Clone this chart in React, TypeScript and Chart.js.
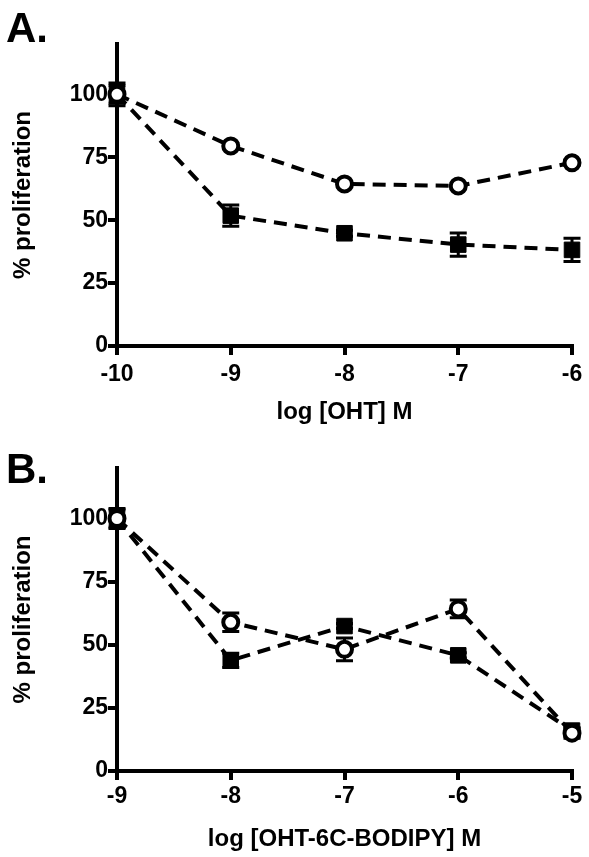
import React, { useEffect, useRef } from "react";
import { Chart, registerables } from "chart.js";

Chart.register(...registerables);

// Panel A data
const xA = [-10, -9, -8, -7, -6];
const openA = [100, 79.5, 64.4, 63.6, 72.8];
const openErrA = [4.5, 1, 1, 1, 1];
const filledA = [100, 51.8, 44.8, 40.3, 38.2];
const filledErrA = [3.5, 4.2, 1.2, 4.6, 4.6];

// Panel B data
const xB = [-9, -8, -7, -6, -5];
const openB = [100, 58.9, 48.2, 64.2, 15];
const openErrB = [4, 3.7, 4.5, 3.5, 2];
const filledB = [100, 43.8, 57.4, 45.8, 16];
const filledErrB = [3.5, 2.8, 1, 1, 1];

const yTicks = [0, 25, 50, 75, 100];

const FONT = "'Liberation Sans', Arial, Helvetica, sans-serif";

const errorBarPlugin = {
  id: "errorBars",
  beforeDatasetsDraw(chart: any) {
    const ctx = chart.ctx;
    const xs = chart.scales.x;
    const ys = chart.scales.y;
    ctx.save();
    ctx.strokeStyle = "#000";
    ctx.lineWidth = 3;
    chart.data.datasets.forEach((ds: any) => {
      const errs: number[] = ds.errors || [];
      ds.data.forEach((p: any, i: number) => {
        const e = errs[i];
        if (!e) return;
        const px = xs.getPixelForValue(p.x);
        const yTop = ys.getPixelForValue(p.y + e);
        const yBot = ys.getPixelForValue(p.y - e);
        ctx.beginPath();
        ctx.moveTo(px, yTop);
        ctx.lineTo(px, yBot);
        ctx.moveTo(px - 8.5, yTop);
        ctx.lineTo(px + 8.5, yTop);
        ctx.moveTo(px - 8.5, yBot);
        ctx.lineTo(px + 8.5, yBot);
        ctx.stroke();
      });
    });
    ctx.restore();
  },
};

const panelLabelPlugin = {
  id: "panelLabel",
  afterDraw(chart: any, _args: any, opts: any) {
    if (!opts || !opts.text) return;
    const ctx = chart.ctx;
    ctx.save();
    ctx.fillStyle = "#000";
    ctx.font = `bold 42px ${FONT}`;
    ctx.textBaseline = "alphabetic";
    ctx.textAlign = "left";
    ctx.fillText(opts.text, opts.x, opts.y);
    ctx.restore();
  },
};

function makeConfig(p: {
  xs: number[];
  open: number[];
  openErr: number[];
  filled: number[];
  filledErr: number[];
  xTitle: string;
  label: string;
  labelY: number;
  padTop: number;
  xHeight: number;
  tickPad: number;
  titlePadBottom: number;
}): any {
  const toPts = (vals: number[]) => p.xs.map((x, i) => ({ x, y: vals[i] }));
  return {
    type: "line",
    data: {
      datasets: [
        {
          label: "open",
          data: toPts(p.open),
          errors: p.openErr,
          borderColor: "#000",
          borderWidth: 4,
          borderDash: [13, 8],
          pointStyle: "circle",
          pointRadius: 7.5,
          pointBorderWidth: 4,
          pointBackgroundColor: "#fff",
          pointBorderColor: "#000",
          fill: false,
          tension: 0,
          clip: false,
        },
        {
          label: "filled",
          data: toPts(p.filled),
          errors: p.filledErr,
          borderColor: "#000",
          borderWidth: 4,
          borderDash: [13, 8],
          pointStyle: "rect",
          pointRadius: 11,
          pointBorderWidth: 1,
          pointBackgroundColor: "#000",
          pointBorderColor: "#000",
          fill: false,
          tension: 0,
          clip: false,
        },
      ],
    },
    options: {
      animation: false,
      responsive: false,
      maintainAspectRatio: false,
      events: [],
      layout: { padding: { top: p.padTop, right: 17, left: 0, bottom: 0 } },
      plugins: {
        legend: { display: false },
        tooltip: { enabled: false },
        title: { display: false },
        panelLabel: { text: p.label, x: 6, y: p.labelY },
      },
      scales: {
        x: {
          type: "linear",
          min: p.xs[0],
          max: p.xs[p.xs.length - 1],
          afterFit(scale: any) {
            scale.height = p.xHeight;
          },
          border: { display: true, color: "#000", width: 4 },
          grid: {
            display: true,
            drawOnChartArea: false,
            drawTicks: true,
            tickLength: 9,
            tickWidth: 4,
            tickColor: "#000",
            lineWidth: 4,
            color: "#000",
          },
          ticks: {
            stepSize: 1,
            color: "#000",
            padding: p.tickPad,
            maxRotation: 0,
            font: { family: FONT, size: 23, weight: "bold" },
          },
          title: {
            display: true,
            text: p.xTitle,
            color: "#000",
            padding: { top: 0, bottom: p.titlePadBottom },
            font: { family: FONT, size: 24, weight: "bold" },
          },
        },
        y: {
          type: "linear",
          min: 0,
          max: 120,
          bounds: "data",
          afterFit(scale: any) {
            scale.width = 117;
          },
          afterBuildTicks(scale: any) {
            scale.ticks = yTicks.map((v) => ({ value: v }));
          },
          border: { display: true, color: "#000", width: 4 },
          grid: {
            display: true,
            drawOnChartArea: false,
            drawTicks: true,
            tickLength: 9,
            tickWidth: 4,
            tickColor: "#000",
            lineWidth: 4,
            color: "#000",
          },
          ticks: {
            color: "#000",
            padding: 0,
            font: { family: FONT, size: 23, weight: "bold" },
          },
          title: {
            display: true,
            text: "% proliferation",
            color: "#000",
            padding: { top: 9, bottom: 0 },
            font: { family: FONT, size: 24, weight: "bold" },
          },
        },
      },
    },
    plugins: [errorBarPlugin, panelLabelPlugin],
  };
}

export default function App() {
  const refA = useRef<HTMLCanvasElement | null>(null);
  const refB = useRef<HTMLCanvasElement | null>(null);

  useEffect(() => {
    const chartA = new Chart(
      refA.current as HTMLCanvasElement,
      makeConfig({
        xs: xA,
        open: openA,
        openErr: openErrA,
        filled: filledA,
        filledErr: filledErrA,
        xTitle: "log [OHT] M",
        label: "A.",
        labelY: 42,
        padTop: 44,
        xHeight: 82,
        tickPad: 6,
        titlePadBottom: 1,
      })
    );
    const chartB = new Chart(
      refB.current as HTMLCanvasElement,
      makeConfig({
        xs: xB,
        open: openB,
        openErr: openErrB,
        filled: filledB,
        filledErr: filledErrB,
        xTitle: "log [OHT-6C-BODIPY] M",
        label: "B.",
        labelY: 55,
        padTop: 40,
        xHeight: 86,
        tickPad: 3,
        titlePadBottom: 3,
      })
    );
    return () => {
      chartA.destroy();
      chartB.destroy();
    };
  }, []);

  return (
    <div
      style={{
        position: "absolute",
        left: 0,
        top: 0,
        width: 589,
        height: 857,
        background: "#fff",
      }}
    >
      <canvas
        ref={refA}
        width={589}
        height={428}
        style={{ position: "absolute", left: 0, top: 0, width: 589, height: 428 }}
      />
      <canvas
        ref={refB}
        width={589}
        height={429}
        style={{ position: "absolute", left: 0, top: 428, width: 589, height: 429 }}
      />
    </div>
  );
}
